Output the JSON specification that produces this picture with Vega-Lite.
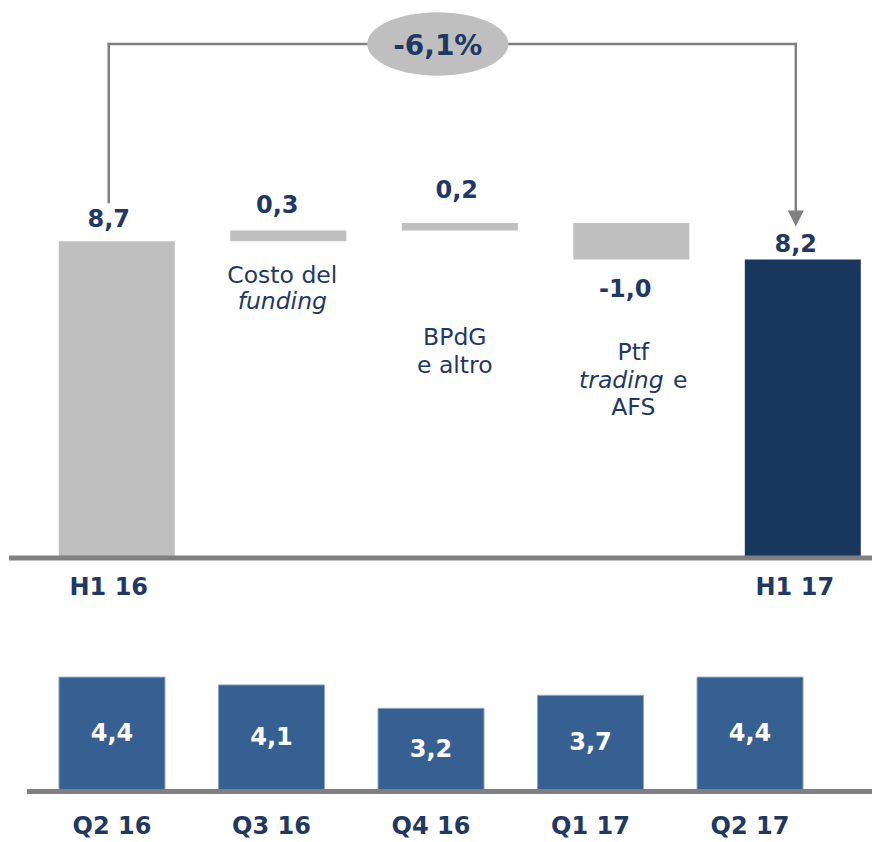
{
  "$schema": "https://vega.github.io/schema/vega-lite/v6.json",
  "padding": 0,
  "spacing": 0,
  "bounds": "flush",
  "config": {
    "view": {"stroke": null},
    "font": "DejaVu Sans",
    "axis": {"disable": true},
    "locale": {"number": {"decimal": ",", "thousands": ".", "grouping": [3], "currency": ["", " €"]}},
    "text": {"font": "DejaVu Sans", "color": "#1F3864"}
  },
  "datasets": {
    "bridge": [
      {"cat": "H1 16", "kind": "start", "low": 0, "high": 8.7, "label": "8,7"},
      {"cat": "Costo del funding", "kind": "delta", "low": 8.7, "high": 9.0, "label": "0,3", "name": ["Costo del"], "nameIt": ["\u00a0", "funding"]},
      {"cat": "BPdG e altro", "kind": "delta", "low": 9.0, "high": 9.2, "label": "0,2", "name": ["BPdG", "e altro"]},
      {"cat": "Ptf trading e AFS", "kind": "delta", "low": 9.2, "high": 8.2, "label": "-1,0", "name": ["Ptf"], "nameIt": ["\u00a0", "trading"], "suffix": "e", "last": "AFS"},
      {"cat": "H1 17", "kind": "end", "low": 0, "high": 8.2, "label": "8,2"}
    ],
    "change": [
      {"from": "H1 16", "to": "H1 17", "mid": "BPdG e altro", "pct": "-6,1%"}
    ],
    "quarters": [
      {"q": "Q2 16", "v": 4.4},
      {"q": "Q3 16", "v": 4.1},
      {"q": "Q4 16", "v": 3.2},
      {"q": "Q1 17", "v": 3.7},
      {"q": "Q2 17", "v": 4.4}
    ]
  },
  "vconcat": [
    {
      "width": 872,
      "height": 620,
      "layer": [
        {
          "data": {"name": "bridge"},
          "mark": {"type": "bar"},
          "encoding": {
            "x": {"field": "cat", "type": "nominal", "axis": null,
                  "scale": {"domain": ["H1 16", "Costo del funding", "BPdG e altro", "Ptf trading e AFS", "H1 17"], "paddingInner": 0.3236, "paddingOuter": 0.204, "align": 0.84}},
            "y": {"field": "low", "type": "quantitative", "axis": null,
                  "scale": {"domain": [-1.7033, 15.3297], "nice": false, "zero": false}},
            "y2": {"field": "high"},
            "color": {"field": "kind", "type": "nominal", "legend": null,
                      "scale": {"domain": ["start", "delta", "end"], "range": ["#BFBFBF", "#BFBFBF", "#17375E"]}}
          }
        },
        {
          "data": {"name": "change"},
          "mark": {"type": "rule", "color": "#808080", "strokeWidth": 5, "xOffset": 9},
          "encoding": {"x": {"value": 0}, "x2": {"value": "width"}, "y": {"datum": 0}}
        },
        {
          "data": {"name": "bridge"},
          "transform": [{"filter": "datum.cat === 'H1 16'"}],
          "mark": {"type": "text", "fontSize": 24, "fontWeight": "bold", "baseline": "alphabetic", "dy": -14, "xOffset": -8},
          "encoding": {"x": {"field": "cat", "type": "nominal"}, "y": {"field": "high", "type": "quantitative"}, "text": {"field": "label"}}
        },
        {
          "data": {"name": "bridge"},
          "transform": [{"filter": "datum.cat === 'Costo del funding'"}],
          "mark": {"type": "text", "fontSize": 24, "fontWeight": "bold", "baseline": "alphabetic", "dy": -17, "xOffset": -11},
          "encoding": {"x": {"field": "cat", "type": "nominal"}, "y": {"field": "high", "type": "quantitative"}, "text": {"field": "label"}}
        },
        {
          "data": {"name": "bridge"},
          "transform": [{"filter": "datum.cat === 'BPdG e altro'"}],
          "mark": {"type": "text", "fontSize": 24, "fontWeight": "bold", "baseline": "alphabetic", "dy": -25, "xOffset": -3},
          "encoding": {"x": {"field": "cat", "type": "nominal"}, "y": {"field": "high", "type": "quantitative"}, "text": {"field": "label"}}
        },
        {
          "data": {"name": "bridge"},
          "transform": [{"filter": "datum.cat === 'Ptf trading e AFS'"}],
          "mark": {"type": "text", "fontSize": 24, "fontWeight": "bold", "baseline": "alphabetic", "dy": 37, "xOffset": -6},
          "encoding": {"x": {"field": "cat", "type": "nominal"}, "y": {"field": "high", "type": "quantitative"}, "text": {"field": "label"}}
        },
        {
          "data": {"name": "bridge"},
          "transform": [{"filter": "datum.cat === 'H1 17'"}],
          "mark": {"type": "text", "fontSize": 24, "fontWeight": "bold", "baseline": "alphabetic", "dy": -8, "xOffset": -7},
          "encoding": {"x": {"field": "cat", "type": "nominal"}, "y": {"field": "high", "type": "quantitative"}, "text": {"field": "label"}}
        },
        {
          "data": {"name": "bridge"},
          "transform": [{"filter": "datum.kind !== 'delta'"}],
          "mark": {"type": "text", "fontSize": 24, "fontWeight": "bold", "baseline": "alphabetic", "dy": 37, "xOffset": -8},
          "encoding": {"x": {"field": "cat", "type": "nominal"}, "y": {"datum": 0}, "text": {"field": "cat"}}
        },
        {
          "data": {"name": "bridge"},
          "transform": [{"filter": "datum.cat === 'Costo del funding'"}],
          "mark": {"type": "text", "fontSize": 23.5, "baseline": "alphabetic", "lineHeight": 26, "dy": -275, "xOffset": -6},
          "encoding": {"x": {"field": "cat", "type": "nominal"}, "y": {"datum": 0}, "text": {"field": "name"}}
        },
        {
          "data": {"name": "bridge"},
          "transform": [{"filter": "datum.cat === 'Costo del funding'"}],
          "mark": {"type": "text", "fontSize": 23.5, "fontStyle": "italic", "baseline": "alphabetic", "lineHeight": 26, "dy": -275, "xOffset": -6},
          "encoding": {"x": {"field": "cat", "type": "nominal"}, "y": {"datum": 0}, "text": {"field": "nameIt"}}
        },
        {
          "data": {"name": "bridge"},
          "transform": [{"filter": "datum.cat === 'BPdG e altro'"}],
          "mark": {"type": "text", "fontSize": 23.5, "baseline": "alphabetic", "lineHeight": 28, "dy": -213, "xOffset": -5},
          "encoding": {"x": {"field": "cat", "type": "nominal"}, "y": {"datum": 0}, "text": {"field": "name"}}
        },
        {
          "data": {"name": "bridge"},
          "transform": [{"filter": "datum.cat === 'Ptf trading e AFS'"}],
          "mark": {"type": "text", "fontSize": 23.5, "baseline": "alphabetic", "dy": -198, "xOffset": 2},
          "encoding": {"x": {"field": "cat", "type": "nominal"}, "y": {"datum": 0}, "text": {"field": "name"}}
        },
        {
          "data": {"name": "bridge"},
          "transform": [{"filter": "datum.cat === 'Ptf trading e AFS'"}],
          "mark": {"type": "text", "fontSize": 23.5, "fontStyle": "italic", "baseline": "alphabetic", "lineHeight": 27.5, "dy": -198, "xOffset": -10},
          "encoding": {"x": {"field": "cat", "type": "nominal"}, "y": {"datum": 0}, "text": {"field": "nameIt"}}
        },
        {
          "data": {"name": "bridge"},
          "transform": [{"filter": "datum.cat === 'Ptf trading e AFS'"}],
          "mark": {"type": "text", "fontSize": 23.5, "baseline": "alphabetic", "dy": -170.5, "xOffset": 49},
          "encoding": {"x": {"field": "cat", "type": "nominal"}, "y": {"datum": 0}, "text": {"field": "suffix"}}
        },
        {
          "data": {"name": "bridge"},
          "transform": [{"filter": "datum.cat === 'Ptf trading e AFS'"}],
          "mark": {"type": "text", "fontSize": 23.5, "baseline": "alphabetic", "dy": -143, "xOffset": 2},
          "encoding": {"x": {"field": "cat", "type": "nominal"}, "y": {"datum": 0}, "text": {"field": "last"}}
        },
        {
          "data": {"name": "change"},
          "mark": {"type": "rule", "color": "#808080", "strokeWidth": 2.5, "strokeCap": "square", "xOffset": -8, "x2Offset": -7},
          "encoding": {"x": {"field": "from", "type": "nominal"}, "x2": {"field": "to"}, "y": {"datum": 14.12}}
        },
        {
          "data": {"name": "change"},
          "mark": {"type": "rule", "color": "#808080", "strokeWidth": 2.5, "strokeCap": "square", "xOffset": -8},
          "encoding": {"x": {"field": "from", "type": "nominal"}, "y": {"datum": 14.12}, "y2": {"datum": 9.78}}
        },
        {
          "data": {"name": "change"},
          "mark": {"type": "rule", "color": "#808080", "strokeWidth": 2.5, "strokeCap": "square", "xOffset": -7},
          "encoding": {"x": {"field": "to", "type": "nominal"}, "y": {"datum": 14.12}, "y2": {"datum": 9.56}}
        },
        {
          "data": {"name": "change"},
          "mark": {"type": "point", "filled": true, "opacity": 1, "color": "#808080", "shape": "M-1,-1L1,-1L0,1Z", "size": 256, "xOffset": -7},
          "encoding": {"x": {"field": "to", "type": "nominal"}, "y": {"datum": 9.33}}
        },
        {
          "data": {"name": "change"},
          "mark": {"type": "point", "filled": true, "opacity": 1, "color": "#BFBFBF", "size": 19881, "xOffset": -22,
                   "shape": "M1,0C1,0.2485,0.5523,0.45,0,0.45C-0.5523,0.45,-1,0.2485,-1,0C-1,-0.2485,-0.5523,-0.45,0,-0.45C0.5523,-0.45,1,-0.2485,1,0Z"},
          "encoding": {"x": {"field": "mid", "type": "nominal"}, "y": {"datum": 14.12}}
        },
        {
          "data": {"name": "change"},
          "mark": {"type": "text", "fontSize": 28, "fontWeight": "bold", "baseline": "alphabetic", "dy": 11, "xOffset": -22},
          "encoding": {"x": {"field": "mid", "type": "nominal"}, "y": {"datum": 14.12}, "text": {"field": "pct"}}
        }
      ]
    },
    {
      "width": 872,
      "height": 222,
      "data": {"name": "quarters"},
      "layer": [
        {
          "mark": {"type": "bar", "color": "#376092", "stroke": "#8FA6C6", "strokeWidth": 1},
          "encoding": {
            "x": {"field": "q", "type": "nominal", "sort": null, "axis": null,
                  "scale": {"paddingInner": 0.3354, "paddingOuter": 0.401, "align": 0.461}},
            "y": {"field": "v", "type": "quantitative", "axis": null,
                  "scale": {"domain": [-1.9423, 6.5962], "nice": false, "zero": false}},
            "y2": {"datum": 0}
          }
        },
        {
          "mark": {"type": "rule", "color": "#808080", "strokeWidth": 5, "xOffset": 27},
          "transform": [{"filter": "datum.q === 'Q2 16'"}],
          "encoding": {"x": {"value": 0}, "x2": {"value": "width"}, "y": {"datum": 0}}
        },
        {
          "transform": [{"calculate": "datum.v / 2", "as": "mid"}],
          "mark": {"type": "text", "fontSize": 24, "fontWeight": "bold", "color": "white", "baseline": "middle"},
          "encoding": {
            "x": {"field": "q", "type": "nominal", "sort": null},
            "y": {"field": "mid", "type": "quantitative"},
            "text": {"field": "v", "type": "quantitative", "format": ".1f"}
          }
        },
        {
          "mark": {"type": "text", "fontSize": 24, "fontWeight": "bold", "baseline": "alphabetic", "dy": 42.5},
          "encoding": {
            "x": {"field": "q", "type": "nominal", "sort": null},
            "y": {"datum": 0},
            "text": {"field": "q"}
          }
        }
      ]
    }
  ]
}
